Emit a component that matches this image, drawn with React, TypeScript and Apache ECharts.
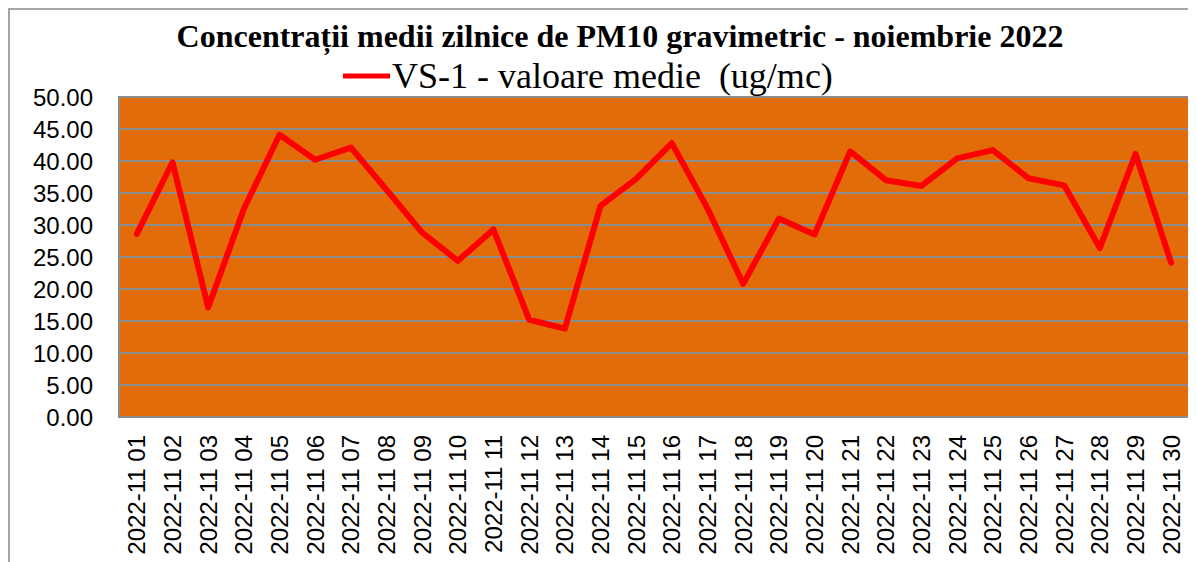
import React, { useEffect, useRef } from "react";
import * as echarts from "echarts";

const titleText = "Concentrații medii zilnice de PM10 gravimetric - noiembrie 2022";
const seriesName = "VS-1 - valoare medie  (ug/mc)";
const categories = [
  "2022-11 01", "2022-11 02", "2022-11 03", "2022-11 04", "2022-11 05",
  "2022-11 06", "2022-11 07", "2022-11 08", "2022-11 09", "2022-11 10",
  "2022-11 11", "2022-11 12", "2022-11 13", "2022-11 14", "2022-11 15",
  "2022-11 16", "2022-11 17", "2022-11 18", "2022-11 19", "2022-11 20",
  "2022-11 21", "2022-11 22", "2022-11 23", "2022-11 24", "2022-11 25",
  "2022-11 26", "2022-11 27", "2022-11 28", "2022-11 29", "2022-11 30",
];
const values = [
  28.6, 39.8, 17.1, 32.5, 44.1,
  40.2, 42.1, 35.5, 28.8, 24.4,
  29.3, 15.2, 13.8, 33.0, 37.2,
  42.8, 32.6, 20.8, 31.0, 28.5,
  41.5, 37.0, 36.1, 40.4, 41.7,
  37.3, 36.2, 26.4, 41.1, 24.1,
];
const yMin = 0;
const yMax = 50;
const yInterval = 5;

export default function App() {
  const ref = useRef<HTMLDivElement>(null);
  useEffect(() => {
    if (!ref.current) return;
    const chart = echarts.init(ref.current, undefined, { renderer: "svg" });
    chart.setOption({
      animation: false,
      backgroundColor: "#ffffff",
      title: {
        text: titleText,
        left: 607,
        top: 7,
        textAlign: "center",
        textStyle: {
          fontFamily: "Liberation Serif",
          fontWeight: "bold",
          fontSize: 32,
          color: "#000000",
        },
      },
      legend: {
        left: 335,
        top: 50,
        padding: 0,
        icon: "rect",
        itemWidth: 47,
        itemHeight: 5,
        itemGap: 10,
        textStyle: {
          fontFamily: "Liberation Serif",
          fontSize: 36,
          color: "#000000",
          padding: [0, 0, 0, -3],
        },
        data: [seriesName],
      },
      graphic: [
        { type: "line", shape: { x1: 1, y1: 0, x2: 1, y2: 600 }, style: { stroke: "#a6a6a6", lineWidth: 2 } },
        { type: "line", shape: { x1: 0, y1: 1, x2: 1300, y2: 1 }, style: { stroke: "#a6a6a6", lineWidth: 2 } },
      ],
      grid: {
        left: 111,
        top: 89,
        right: 7,
        bottom: 145,
        show: true,
        backgroundColor: "#E36C0A",
        borderColor: "#8c8c8c",
        borderWidth: 2,
        containLabel: false,
      },
      xAxis: {
        type: "category",
        data: categories,
        boundaryGap: true,
        axisLine: { show: true, lineStyle: { color: "#8c8c8c", width: 2 } },
        axisTick: { show: false },
        axisLabel: {
          rotate: 90,
          interval: 0,
          margin: 18,
          fontFamily: "Liberation Sans",
          fontSize: 24,
          color: "#000000",
        },
      },
      yAxis: {
        type: "value",
        min: yMin,
        max: yMax,
        interval: yInterval,
        axisLine: { show: false },
        axisTick: { show: false },
        axisLabel: {
          margin: 26,
          fontFamily: "Liberation Sans",
          fontSize: 24,
          color: "#000000",
          formatter: (v: number) => v.toFixed(2),
        },
        splitLine: { show: true, lineStyle: { color: "#8c8c8c", width: 2 } },
      },
      series: [
        {
          name: seriesName,
          type: "line",
          data: values,
          symbol: "none",
          lineStyle: { color: "#FF0000", width: 6, join: "round", cap: "round" },
          itemStyle: { color: "#FF0000" },
        },
      ],
    });
    return () => chart.dispose();
  }, []);
  return <div ref={ref} style={{ width: 1188, height: 554 }} />;
}
